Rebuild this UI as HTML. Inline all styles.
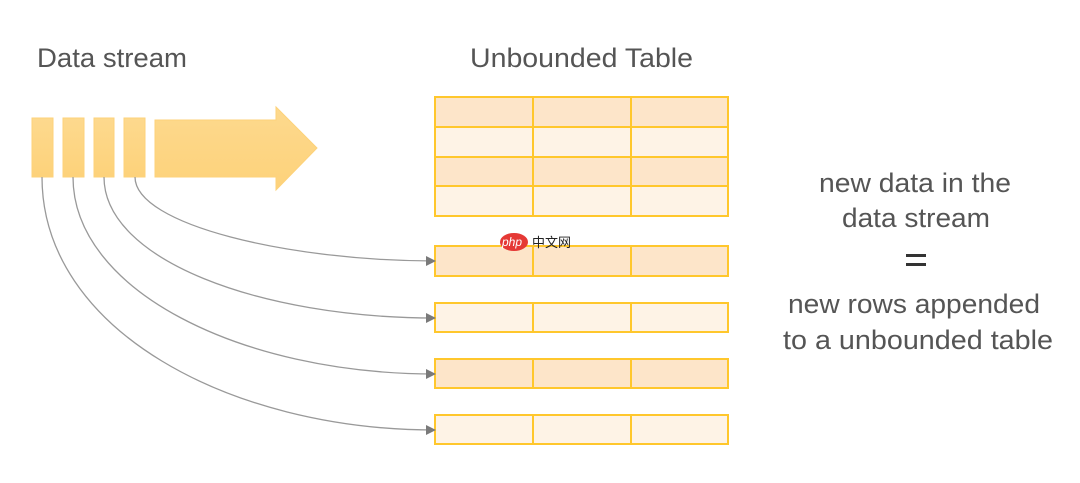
<!DOCTYPE html>
<html><head><meta charset="utf-8"><style>html,body{margin:0;padding:0;background:#fff}svg{display:block}</style></head>
<body>
<svg width="1080" height="483" viewBox="0 0 1080 483" xmlns="http://www.w3.org/2000/svg">
<defs>
<linearGradient id="g" x1="0" y1="0" x2="0" y2="1"><stop offset="0" stop-color="#fdd98e"/><stop offset="1" stop-color="#fdd27a"/></linearGradient>
<marker id="ah" markerWidth="10" markerHeight="10" refX="9" refY="5" orient="auto" markerUnits="userSpaceOnUse"><path d="M0,0 L10,5 L0,10 Z" fill="#7a7a7a"/></marker>
</defs>
<g font-family="Liberation Sans, sans-serif" fill="#555" font-size="27">
<text x="37" y="67" textLength="150" lengthAdjust="spacingAndGlyphs">Data stream</text>
<text x="470" y="67" textLength="223" lengthAdjust="spacingAndGlyphs">Unbounded Table</text>
<text x="819" y="192" textLength="192" lengthAdjust="spacingAndGlyphs">new data in the</text>
<text x="842" y="227" textLength="148" lengthAdjust="spacingAndGlyphs">data stream</text>
<text x="788" y="313" textLength="252" lengthAdjust="spacingAndGlyphs">new rows appended</text>
<text x="783" y="349" textLength="270" lengthAdjust="spacingAndGlyphs">to a unbounded table</text>
</g>
<rect x="906" y="254" width="20" height="3" fill="#333"/>
<rect x="906" y="263" width="20" height="3" fill="#333"/>
<g fill="url(#g)" stroke="#fdd27a" stroke-width="1">
<rect x="32" y="118" width="21" height="59"/>
<rect x="63" y="118" width="21" height="59"/>
<rect x="94" y="118" width="20" height="59"/>
<rect x="124" y="118" width="21" height="59"/>
<path d="M155,120 L276,120 L276,107 L317,148 L276,190 L276,177 L155,177 Z"/>
</g>
<g stroke="#ffc72c" stroke-width="2">
<rect x="435" y="97" width="293" height="30" fill="#fde5c9"/>
<rect x="435" y="127" width="293" height="30" fill="#fef3e6"/>
<rect x="435" y="157" width="293" height="29" fill="#fde5c9"/>
<rect x="435" y="186" width="293" height="30" fill="#fef3e6"/>
<rect x="435" y="246" width="293" height="30" fill="#fde5c9"/>
<rect x="435" y="303" width="293" height="29" fill="#fef3e6"/>
<rect x="435" y="359" width="293" height="29" fill="#fde5c9"/>
<rect x="435" y="415" width="293" height="29" fill="#fef3e6"/>
<path d="M533,97V216M631,97V216M533,246V276M631,246V276M533,303V332M631,303V332M533,359V388M631,359V388M533,415V444M631,415V444" fill="none"/>
</g>
<g fill="none" stroke="#999" stroke-width="1.3" marker-end="url(#ah)">
<path d="M135,177 C135,225 290,261 435,261"/>
<path d="M104,177 C104,260 260,318 435,318"/>
<path d="M73,177 C73,290 240,374 435,374"/>
<path d="M42,177 C42,330 230,430 435,430"/>
</g>
<ellipse cx="514" cy="242" rx="14" ry="9" fill="#e53935"/>
<text x="502" y="246" font-family="Liberation Sans, sans-serif" font-size="12" font-style="italic" fill="#fff">php</text>
<text x="532" y="247" font-family="Liberation Sans, 'Noto Sans CJK SC', sans-serif" font-size="13" fill="#222">中文网</text>
</svg>
</body></html>
